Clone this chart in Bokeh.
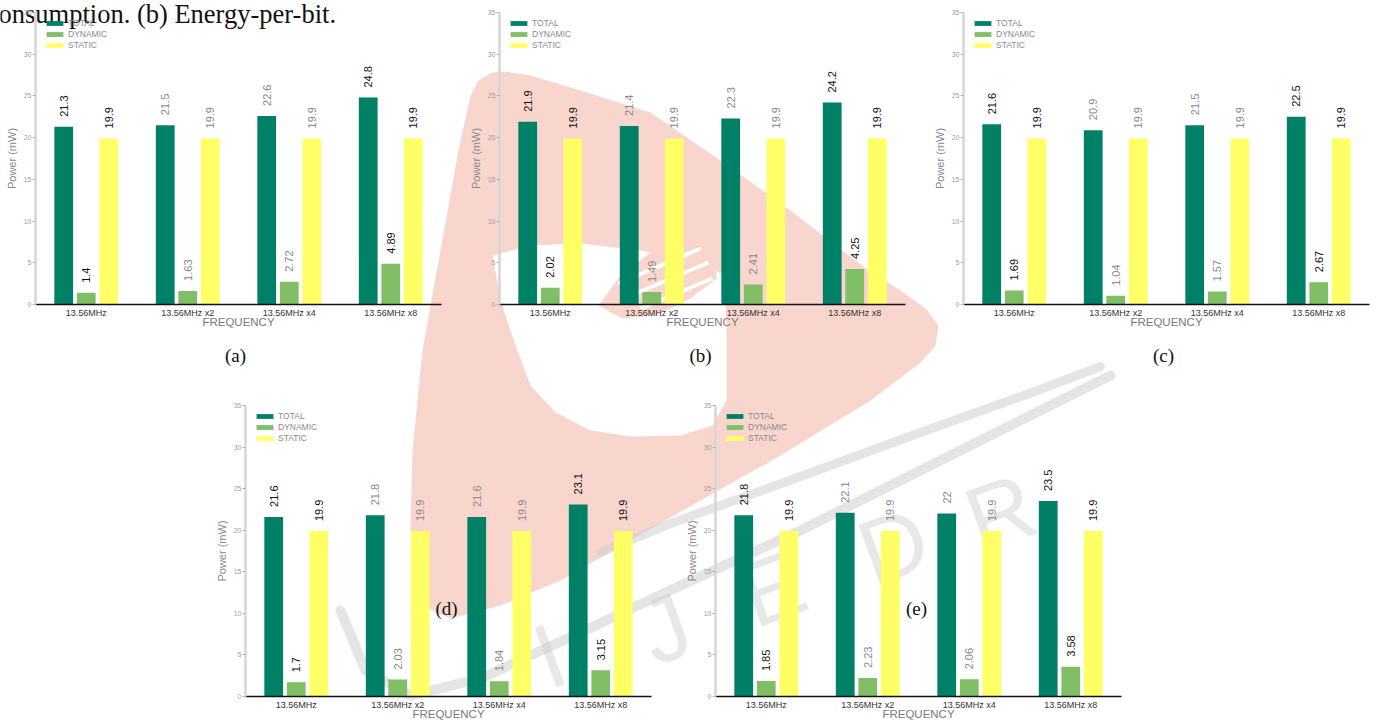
import math

from bokeh.core.properties import value
from bokeh.embed import file_html
from bokeh.layouts import column
from bokeh.models import (ColumnDataSource, FactorRange, FixedTicker, Label, Legend, LegendItem,
                          Plot, Range1d)
from bokeh.plotting import figure
from bokeh.resources import INLINE
from bokeh.transform import dodge

# ---------------------------------------------------------------- data
categories = ["13.56MHz", "13.56MHz x2", "13.56MHz x4", "13.56MHz x8"]
series_names = ["TOTAL", "DYNAMIC", "STATIC"]
y_ticks = [0, 5, 10, 15, 20, 25, 30, 35]

total_a = [21.3, 21.5, 22.6, 24.8]
dynamic_a = [1.4, 1.63, 2.72, 4.89]
static_a = [19.9, 19.9, 19.9, 19.9]

total_b = [21.9, 21.4, 22.3, 24.2]
dynamic_b = [2.02, 1.49, 2.41, 4.25]
static_b = [19.9, 19.9, 19.9, 19.9]

total_c = [21.6, 20.9, 21.5, 22.5]
dynamic_c = [1.69, 1.04, 1.57, 2.67]
static_c = [19.9, 19.9, 19.9, 19.9]

total_d = [21.6, 21.8, 21.6, 23.1]
dynamic_d = [1.7, 2.03, 1.84, 3.15]
static_d = [19.9, 19.9, 19.9, 19.9]

total_e = [21.8, 22.1, 22.0, 23.5]
dynamic_e = [1.85, 2.23, 2.06, 3.58]
static_e = [19.9, 19.9, 19.9, 19.9]

captions = ["(a)", "(b)", "(c)", "(d)", "(e)"]
header_text = "onsumption. (b) Energy-per-bit."
watermark_letters = ["I", "J", "E", "D", "R"]

# ---------------------------------------------------------------- styling
COLORS = ["#008066", "#80bf66", "#ffff66"]
OFFSETS = [-0.222, 0.0, 0.222]
BAR_W = 0.185
SANS = "Liberation Sans"
SERIF = "Liberation Serif"
LABEL_INK = ["#111111", "#8a8a8a", "#8a8a8a", "#111111"]

FRAME_W = 406
BL, BT, BR, BB = 35, 12, 5, 40
PAGE_W, PAGE_H = 1376, 720

# plots in a column normally get their frames lined up; switch that off when possible
CAN_UNALIGN = "frame_align" in Plot.properties()

# frame origin (left, top) and frame height of each panel on the page
panel_boxes = [(35, 12, 292), (499, 12, 292), (963, 12, 292), (245, 405, 291), (715, 405, 291)]
caption_pos = [(235, 355), (700, 355), (1163, 355), (446, 608), (916, 608)]

# watermark outline (page pixels)
wm_x = [470, 478, 492, 505, 530, 580, 650, 720, 790, 864, 900, 925, 938, 935, 920, 870, 780,
        670, 560, 500, 450, 425, 415, 410, 412, 422, 440, 458]
wm_y = [95, 80, 72, 71, 75, 90, 112, 160, 210, 267, 290, 308, 325, 345, 362, 400, 455,
        517, 580, 605, 618, 607, 580, 530, 450, 350, 250, 150]
notch_x = [492, 530, 580, 640, 700, 724, 726, 726, 712, 680, 630, 590, 555, 530, 515, 500]
notch_y = [255, 245, 243, 250, 262, 275, 330, 400, 425, 435, 436, 430, 412, 385, 345, 300]
hand_x = [598, 620, 650, 690, 716, 716, 690, 655, 622]
hand_y = [305, 275, 252, 238, 236, 278, 298, 315, 318]
stripe_xs = [[618, 700], [628, 708], [640, 712]]
stripe_ys = [[283, 248], [296, 262], [308, 278]]
arc_low_x = [340, 365, 410, 480, 580, 680, 800, 920, 1040, 1110]
arc_low_y = [610, 670, 695, 678, 632, 585, 530, 470, 410, 375]
arc_up_x = [600, 670, 800, 920, 1037, 1100]
arc_up_y = [552, 523, 476, 432, 390, 366]
letter_x = [549, 665, 772, 893, 1000]
letter_y = [655, 628, 588, 545, 512]


def fmt(v):
    return f"{v:g}"


def make_panel(total, dynamic, static, box):
    left, top, frame_h = box
    p = figure(
        x_range=FactorRange(*categories, range_padding=0),
        y_range=Range1d(0, 35),
        width=BL + FRAME_W + BR,
        height=BT + frame_h + BB,
        min_border_left=BL, min_border_top=BT, min_border_right=BR, min_border_bottom=BB,
        output_backend="svg",
        toolbar_location=None,
        background_fill_alpha=0,
        border_fill_alpha=0,
        outline_line_color=None,
    )
    if CAN_UNALIGN:
        p.frame_align = False
    p.styles = {"position": "absolute", "left": f"{left - BL}px", "top": f"{top - BT}px"}
    p.grid.visible = False

    src = ColumnDataSource(dict(
        cat=categories,
        total=total, dynamic=dynamic, static=static,
        total_lbl=[fmt(v) for v in total],
        dynamic_lbl=[fmt(v) for v in dynamic],
        static_lbl=[fmt(v) for v in static],
        ink=LABEL_INK,
    ))

    renderers = []
    for key, off, col in zip(["total", "dynamic", "static"], OFFSETS, COLORS):
        xd = dodge("cat", off, range=p.x_range)
        r = p.vbar(x=xd, top=key, width=BAR_W, source=src, fill_color=col, line_color=None)
        renderers.append(r)
        p.text(x=xd, y=key, text=f"{key}_lbl", source=src, angle=math.pi / 2,
               text_align="left", text_baseline="middle", y_offset=-10,
               text_font=value(SANS), text_font_size="11px", text_color="ink")

    # y axis
    ya = p.yaxis[0]
    ya.ticker = FixedTicker(ticks=y_ticks)
    ya.axis_line_color = "#d6d6d6"
    ya.axis_line_width = 2.5
    ya.major_tick_line_color = "#b0b0b0"
    ya.major_tick_out = 3
    ya.major_tick_in = 0
    ya.minor_tick_line_color = None
    ya.major_label_standoff = 1
    ya.major_label_text_font = SANS
    ya.major_label_text_font_size = "7px"
    ya.major_label_text_color = "#a0a0a0"
    ya.axis_label = "Power (mW)"
    ya.axis_label_text_font = SANS
    ya.axis_label_text_font_size = "11px"
    ya.axis_label_text_font_style = "normal"
    ya.axis_label_text_color = "#8a8a8a"
    ya.axis_label_standoff = 3

    # x axis
    xa = p.xaxis[0]
    xa.axis_line_color = "#111111"
    xa.axis_line_width = 1.5
    xa.major_tick_line_color = None
    xa.major_tick_out = 0
    xa.major_tick_in = 0
    xa.minor_tick_line_color = None
    xa.major_label_standoff = 3
    xa.major_label_text_font = SANS
    xa.major_label_text_font_size = "9px"
    xa.major_label_text_color = "#333333"
    xa.axis_label = "FREQUENCY"
    xa.axis_label_text_font = SANS
    xa.axis_label_text_font_size = "11.5px"
    xa.axis_label_text_font_style = "normal"
    xa.axis_label_text_color = "#7a7a7a"
    xa.axis_label_standoff = -5

    legend = Legend(
        items=[LegendItem(label=n, renderers=[r]) for n, r in zip(series_names, renderers)],
        location=(9, frame_h - 38.5),
        border_line_color=None,
        background_fill_alpha=0,
        label_text_font=SANS,
        label_text_font_size="8.5px",
        label_text_color="#8a8a8a",
        glyph_width=21,
        glyph_height=6,
        label_height=11,
        label_standoff=3,
        spacing=0,
        padding=0,
        margin=0,
    )
    p.add_layout(legend)
    return p


# ---------------------------------------------------------------- page background
# one data unit is one page pixel; without frame un-alignment the sheet inherits
# the panels' side borders, so its range is shifted to keep that mapping
sheet_l = 0 if CAN_UNALIGN else BL
sheet_r = 0 if CAN_UNALIGN else BR
bg = figure(
    width=PAGE_W, height=PAGE_H,
    x_range=Range1d(sheet_l, PAGE_W - sheet_r), y_range=Range1d(PAGE_H, 0),
    output_backend="svg", toolbar_location=None,
    min_border_left=sheet_l, min_border_right=sheet_r, min_border_top=0, min_border_bottom=0,
    x_axis_location=None, y_axis_location=None,
    outline_line_color=None, title=None,
)
if CAN_UNALIGN:
    bg.frame_align = False
bg.grid.visible = False
bg.styles = {"position": "absolute", "left": "0px", "top": "0px"}

# faint logo behind the charts
bg.patch(wm_x, wm_y, fill_color="#f9d6cd", line_color=None)
bg.patch(notch_x, notch_y, fill_color="white", line_color=None)
bg.patch(hand_x, hand_y, fill_color="#f9d6cd", line_color=None)
bg.multi_line(stripe_xs, stripe_ys, line_color="white", line_width=4)
bg.line(arc_low_x, arc_low_y, line_color="#cfcfcf", line_alpha=0.55, line_width=10,
        line_cap="round", line_join="round")
bg.line(arc_up_x, arc_up_y, line_color="#cfcfcf", line_alpha=0.55, line_width=9,
        line_cap="round", line_join="round")
bg.text(x=letter_x, y=letter_y, text=watermark_letters, angle=0.35,
        text_align="center", text_baseline="middle",
        text_font=value(SANS), text_font_size="92px",
        text_color="#cccccc", text_alpha=0.45)

bg.add_layout(Label(x=-2, y=13, text=header_text, text_align="left",
                    text_baseline="alphabetic", text_font=SERIF, text_font_size="26.5px",
                    text_color="#111111"))
bg.text(x=[c[0] for c in caption_pos], y=[c[1] for c in caption_pos], text=captions,
        text_align="center", text_baseline="middle",
        text_font=value(SERIF), text_font_size="19px", text_color="#111111")

panels = [
    make_panel(total_a, dynamic_a, static_a, panel_boxes[0]),
    make_panel(total_b, dynamic_b, static_b, panel_boxes[1]),
    make_panel(total_c, dynamic_c, static_c, panel_boxes[2]),
    make_panel(total_d, dynamic_d, static_d, panel_boxes[3]),
    make_panel(total_e, dynamic_e, static_e, panel_boxes[4]),
]

page = column(bg, *panels, width=PAGE_W, height=PAGE_H, sizing_mode="fixed")
page.styles = {"position": "relative", "overflow": "hidden",
               "width": f"{PAGE_W}px", "height": f"{PAGE_H}px"}

open("out.html", "w").write(file_html(page, INLINE))
